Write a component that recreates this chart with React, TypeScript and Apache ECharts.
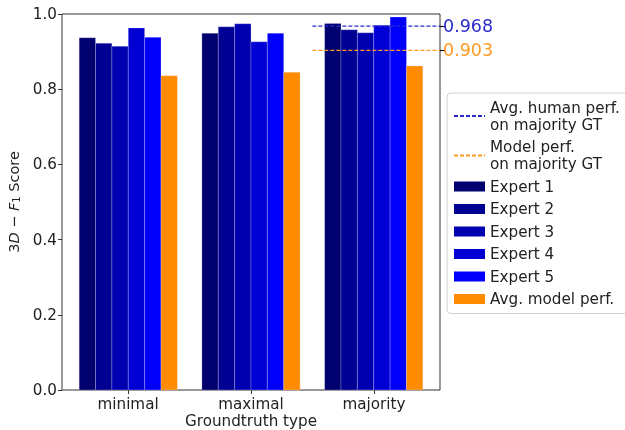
import React, { useEffect, useRef } from "react";
import * as echarts from "echarts";

const categories = ["minimal", "maximal", "majority"];
const seriesNames = ["Expert 1", "Expert 2", "Expert 3", "Expert 4", "Expert 5", "Avg. model perf."];
const expert1 = [0.937, 0.949, 0.975];
const expert2 = [0.922, 0.966, 0.958];
const expert3 = [0.914, 0.974, 0.950];
const expert4 = [0.963, 0.926, 0.970];
const expert5 = [0.938, 0.949, 0.992];
const modelPerf = [0.836, 0.845, 0.862];
const humanAvgMajority = 0.968;
const modelMajority = 0.903;

const barColors = ["#00006e", "#000092", "#0000b0", "#0000d4", "#0000fa", "#ff8c00"];
const humanColor = "#2a2acc";
const modelLineColor = "#ff9a22";
const FONT = "DejaVu Sans";
const FS = 15.2;

export default function App() {
  const ref = useRef<HTMLDivElement>(null);
  useEffect(() => {
    if (!ref.current) return;
    const chart = echarts.init(ref.current, null, { renderer: "svg" });
    const allSeries = [expert1, expert2, expert3, expert4, expert5, modelPerf];
    const groupW = 0.8;
    const barW = groupW / allSeries.length;

    const barSeries = allSeries.map((vals, si) => ({
      type: "custom",
      name: seriesNames[si],
      xAxisIndex: 0,
      yAxisIndex: 0,
      itemStyle: { color: barColors[si] },
      z: 2,
      data: vals.map((v, ci) => [ci, v]),
      renderItem: (params: any, api: any) => {
        const ci = api.value(0);
        const v = api.value(1);
        const x0 = ci - groupW / 2 + barW * si;
        const p0 = api.coord([x0, v]);
        const p1 = api.coord([x0 + barW, 0]);
        return {
          type: "rect",
          shape: { x: p0[0], y: p0[1], width: p1[0] - p0[0], height: p1[1] - p0[1] },
          style: { fill: api.visual("color"), stroke: "rgba(230,230,255,0.5)", lineWidth: 0.5 },
        };
      },
    }));

    const lineSeries = [
      {
        type: "line",
        name: "Avg. human perf.\non majority GT",
        data: [[1.5, humanAvgMajority], [2.54, humanAvgMajority]],
        symbol: "none",
        color: humanColor,
        lineStyle: { color: humanColor, type: [4, 2], width: 1.2 },
        z: 5,
        silent: true,
      },
      {
        type: "line",
        name: "Model perf.\non majority GT",
        data: [[1.5, modelMajority], [2.54, modelMajority]],
        symbol: "none",
        color: modelLineColor,
        lineStyle: { color: modelLineColor, type: [4, 2], width: 1.2 },
        z: 5,
        silent: true,
      },
    ];

    const hiddenSymbol = { color: "rgba(0,0,0,0)", borderWidth: 0, opacity: 0 };

    chart.setOption({
      animation: false,
      textStyle: { fontFamily: FONT },
      grid: [
        {
          left: 62,
          right: 185,
          top: 14,
          bottom: 40,
          containLabel: false,
          outerBoundsMode: "none",
          show: true,
          borderColor: "#333",
          borderWidth: 1,
          backgroundColor: "transparent",
        },
        {
          // grid for the category labels: bands aligned with bar groups
          left: 66.65,
          right: 189.65,
          top: 14,
          bottom: 40,
          containLabel: false,
          outerBoundsMode: "none",
          show: false,
        },
      ],
      legend: {
        orient: "vertical",
        left: 447,
        top: 93,
        itemWidth: 31,
        itemHeight: 10,
        itemGap: 5.5,
        padding: [6, 8, 6, 6],
        borderColor: "#d0d0d0",
        borderWidth: 1,
        borderRadius: 4,
        textStyle: { fontFamily: FONT, fontSize: FS, color: "#222", lineHeight: 17 },
        data: [
          { name: "Avg. human perf.\non majority GT", itemStyle: hiddenSymbol },
          { name: "Model perf.\non majority GT", itemStyle: hiddenSymbol },
          ...seriesNames.map((n) => ({ name: n, icon: "rect" })),
        ],
      },
      xAxis: [
        {
          type: "value",
          gridIndex: 0,
          min: -0.54,
          max: 2.54,
          show: true,
          splitLine: { show: false },
          axisLine: { show: false, onZero: false },
          axisTick: { show: false },
          axisLabel: { show: false },
          name: "Groundtruth type",
          nameLocation: "middle",
          nameGap: 23,
          nameTextStyle: { fontFamily: FONT, fontSize: FS, color: "#222" },
        },
        {
          type: "category",
          gridIndex: 1,
          data: categories,
          boundaryGap: true,
          splitLine: { show: false },
          axisLine: { show: false, onZero: false },
          axisTick: { show: true, alignWithLabel: true, length: 4, lineStyle: { color: "#333" } },
          axisLabel: { fontFamily: FONT, fontSize: FS, color: "#222", margin: 6 },
        },
      ],
      yAxis: [
        {
          type: "value",
          gridIndex: 0,
          min: 0,
          max: 1,
          interval: 0.2,
          position: "left",
          splitLine: { show: false },
          axisLine: { show: false, onZero: false },
          axisTick: { show: true, length: 4, lineStyle: { color: "#333" } },
          axisLabel: {
            formatter: (v: number) => v.toFixed(1),
            fontFamily: FONT,
            fontSize: FS,
            color: "#222",
            margin: 5,
          },
          name: "{n|3}{i|D}{n| − }{i|F}{s|1}{n| Score}",
          nameLocation: "middle",
          nameGap: 38,
          nameRotate: 90,
          nameTextStyle: {
            fontFamily: FONT,
            fontSize: 14.5,
            color: "#222",
            rich: {
              n: { fontFamily: FONT, fontSize: 14.5, color: "#222" },
              i: { fontFamily: FONT, fontSize: 14.5, fontStyle: "italic", color: "#222" },
              s: { fontFamily: FONT, fontSize: 10, color: "#222", padding: [6, 0, 0, 0] },
            },
          },
        },
        {
          type: "value",
          gridIndex: 0,
          min: 0,
          max: 1,
          position: "right",
          splitLine: { show: false },
          axisLine: { show: false, onZero: false },
          axisTick: {
            show: true,
            length: 5,
            customValues: [modelMajority, humanAvgMajority],
            lineStyle: { color: "#111", width: 1.2 },
          },
          axisLabel: {
            customValues: [modelMajority, humanAvgMajority],
            formatter: (v: number) => v.toFixed(3),
            fontFamily: FONT,
            fontSize: 17.5,
            margin: 3,
            color: (v: any) => (Math.abs(Number(v) - humanAvgMajority) < 1e-6 ? humanColor : modelLineColor),
          },
        },
        {
          type: "value",
          gridIndex: 1,
          show: false,
          min: 0,
          max: 1,
          axisLine: { show: false, onZero: false },
        },
      ],
      series: [...barSeries, ...lineSeries],
    });
    return () => chart.dispose();
  }, []);
  return (
    <div
      ref={ref}
      style={{ position: "fixed", left: 0, top: 0, width: 625, height: 430 }}
    />
  );
}
